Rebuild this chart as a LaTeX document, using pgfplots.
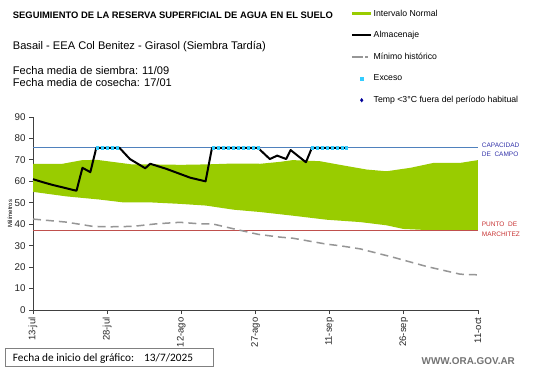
\documentclass[border=0pt]{standalone}
\usepackage{pgfplots}
\pgfplotsset{compat=1.18}
\usepackage{fontspec}
\setmainfont{Liberation Sans}
\newfontfamily\calibri{Carlito}
\definecolor{greenband}{RGB}{153,204,0}
\definecolor{capblue}{RGB}{79,129,189}
\definecolor{captext}{RGB}{51,51,170}
\definecolor{redline}{RGB}{192,80,77}
\definecolor{redtext}{RGB}{200,50,50}
\definecolor{mingray}{RGB}{150,150,150}
\definecolor{exceso}{RGB}{51,204,255}
\definecolor{tempblue}{RGB}{0,0,153}
\pgfplotsset{
  excesolegend/.style={legend image code/.code={%
    \draw[only marks, mark=square*, mark size=1.2pt, draw=none, fill=exceso, mark repeat=2, mark phase=2] plot coordinates {(0pt,0pt) (9.8pt,0pt) (21pt,0pt)};}},
  templegend/.style={legend image code/.code={%
    \draw[only marks, mark=diamond*, mark size=1.8pt, tempblue, mark repeat=2, mark phase=2] plot coordinates {(0pt,0pt) (9.8pt,0pt) (21pt,0pt)};}},
}
\begin{document}
\begin{tikzpicture}[x=1pt,y=1pt]
\useasboundingbox (0,0) rectangle (541,368);
\fill[white] (0,0) rectangle (541,368);
\begin{axis}[
  at={(33pt,58pt)}, anchor=south west,
  scale only axis, width=445pt, height=193pt,
  xmin=0, xmax=90, ymin=0, ymax=90,
  axis x line=bottom, axis y line=left,
  axis line style={-, black!75, line width=0.8pt},
  xtick={0,15,...,90},
  xticklabels={13-jul,28-jul,12-ago,27-ago,11-sep,26-sep,11-oct},
  ytick={0,10,...,90},
  tick align=outside, major tick length=4pt,
  tick style={black!75, line width=0.8pt},
  x tick label style={rotate=90, anchor=east, font=\fontsize{9.5}{10}\selectfont, text=black!85},
  y tick label style={font=\fontsize{9.8}{10}\selectfont, text=black!85},
  /pgf/number format/assume math mode=true,
  ylabel={Milímetros},
  ylabel style={at={(axis description cs:-0.052,0.5)}, anchor=center, font=\fontsize{6}{7}\selectfont},
  legend style={at={(axis description cs:0.714,1.5552)}, anchor=north west, draw=none, fill=none,
     font=\fontsize{8.7}{9}\selectfont, row sep=14.1pt, column sep=1.5pt, inner sep=0pt,
     nodes={inner sep=0pt, anchor=west, text height=6pt, text depth=1.5pt}},
  legend cell align=left,
  clip=false,
]
% capacity line
\addplot[capblue, line width=0.8pt, forget plot] coordinates {(0,75.6) (90,75.6)};
% normal interval band
\addplot[fill=greenband, draw=none,
  legend image code/.code={\fill[greenband] (0pt,-1.6pt) rectangle (19.3pt,1.6pt);}] coordinates {
(0,68.2) (6,68.2) (10,69.9) (13,70) (15,69.4) (20,67.9) (24,67.9) (30,67.7) (35,67.9) (40.5,68.3) (46,68.2) (50,69.1) (52.5,69.9) (58,69.4) (62.8,67.4) (67.5,65.5) (71.5,64.7) (76.3,66.3) (81,68.6) (86.4,68.6) (90,69.9)
(90,37.3) (79.6,37.3) (74.9,37.8) (71.5,39.5) (66.2,41) (59.4,42.1) (52.5,44) (45.9,45.7) (40.5,46.8) (35,48.7) (29.7,49.5) (23.6,50.2) (18.2,50.2) (13.5,51.5) (6.7,53) (0,55.1)
};
\addlegendentry{Intervalo Normal}
\addplot[redline, line width=0.8pt, forget plot] coordinates {(0,37) (90,37)};
% almacenaje
\addplot[black, line width=2pt, line join=round,
  legend image code/.code={\draw[black, line width=2pt] (0pt,0pt) -- (19.3pt,0pt);}] coordinates {
(0,61) (2,59.6) (4,58.3) (6,57.2) (8.8,55.6) (10,66.3) (11.6,64.3) (12.8,75.6) (17.5,75.6) (19.6,70.4) (22.7,66.1) (23.7,68.2) (27,65.8) (31.8,61.7) (34.9,60) (36.2,75.6) (45.5,75.6) (47.9,70.4) (49.4,72) (51.2,70.4) (52.1,74.6) (55.2,68.9) (56.4,75.6) (63.4,75.6)
};
\addlegendentry{Almacenaje}
% minimo historico
\addplot[mingray, line width=1.5pt, dash pattern=on 8pt off 5pt,
  legend image code/.code={\draw[mingray, line width=1.2pt, dash pattern=on 11pt off 2.5pt on 3pt off 20pt] (0pt,0pt) -- (19.3pt,0pt);}] coordinates {
(0,42.4) (6.7,41) (12.1,39) (15.5,38.8) (20.2,39) (25,40.2) (29.7,40.9) (33.7,40.2) (36.4,40.1) (40.5,37.9) (45.5,35.3) (49.9,34) (52.5,33.5) (59.4,30.7) (62,30) (66.2,28.5) (73,24.5) (79.6,20.3) (86.4,16.7) (90,16.4)
};
\addlegendentry{Mínimo histórico}
% exceso
\addplot[only marks, mark=square*, mark size=1.2pt, exceso, mark options={draw=none, fill=exceso}, excesolegend] coordinates {
(13,75.6) (14,75.6) (15,75.6) (16,75.6) (17,75.6)
(36.5,75.6) (37.5,75.6) (38.5,75.6) (39.5,75.6) (40.5,75.6) (41.5,75.6) (42.5,75.6) (43.5,75.6) (44.5,75.6) (45.5,75.6)
(56.5,75.6) (57.5,75.6) (58.5,75.6) (59.5,75.6) (60.5,75.6) (61.5,75.6) (62.5,75.6) (63.4,75.6)
};
\addlegendentry{Exceso}
\addlegendimage{templegend}
\addlegendentry{Temp <3°C fuera del período habitual}
\end{axis}
% header texts
\node[anchor=base west, inner sep=0pt, font=\fontsize{9.4}{10}\selectfont\bfseries] at (12.7,349) {SEGUIMIENTO DE LA RESERVA SUPERFICIAL DE AGUA EN EL SUELO};
\node[anchor=base west, inner sep=0pt, font=\fontsize{11.1}{12}\selectfont] at (12.7,319) {Basail - EEA Col Benitez - Girasol (Siembra Tardía)};
\node[anchor=base west, inner sep=0pt, font=\fontsize{11.1}{12}\selectfont] at (12.7,294) {Fecha media de siembra: 11/09};
\node[anchor=base west, inner sep=0pt, font=\fontsize{11.1}{12}\selectfont] at (12.7,282) {Fecha media de cosecha: 17/01};
% right labels
\node[anchor=base west, inner sep=0pt, font=\fontsize{6.5}{7}\selectfont, text=captext] at (481.7,220.7) {CAPACIDAD};
\node[anchor=base west, inner sep=0pt, font=\fontsize{6.5}{7}\selectfont, text=captext] at (481.7,211.3) {DE\ \ CAMPO};
\node[anchor=base west, inner sep=0pt, font=\fontsize{6.5}{7}\selectfont, text=redtext] at (481.7,141.3) {PUNTO\ \ DE};
\node[anchor=base west, inner sep=0pt, font=\fontsize{6.5}{7}\selectfont, text=redtext] at (481.7,132) {MARCHITEZ};
% bottom box
\draw[black!50, line width=0.8pt] (5,1.3) rectangle (213,19.7);
\node[anchor=base west, inner sep=0pt, font=\calibri\fontsize{11.3}{12}\selectfont] at (12.7,7) {Fecha de inicio del gráfico:};
\node[anchor=base west, inner sep=0pt, font=\calibri\fontsize{11.3}{12}\selectfont] at (144,7) {13/7/2025};
\node[anchor=base west, inner sep=0pt, font=\fontsize{9.9}{10}\selectfont\bfseries, text=black!55] at (421.5,4) {WWW.ORA.GOV.AR};
\end{tikzpicture}
\end{document}
